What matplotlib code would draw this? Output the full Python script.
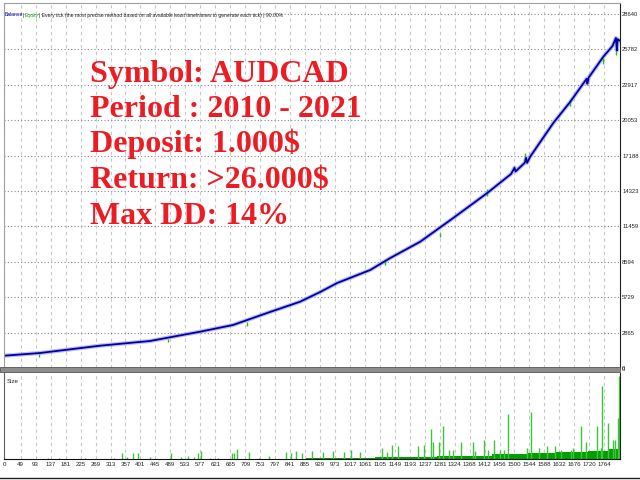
import matplotlib
matplotlib.use("Agg")
import matplotlib.pyplot as plt
from matplotlib.patches import Rectangle

# ---------------- data ----------------
balance_trade = [3, 106, 282, 429, 576, 673, 773, 870, 929, 979, 1076, 1135, 1223,
                 1320, 1420, 1490, 1500, 1503, 1530, 1534, 1537, 1546, 1614, 1664,
                 1712, 1714, 1718, 1761, 1788, 1798, 1801, 1803, 1808]
balance_value = [1000, 1214, 1804, 2184, 2937, 3479, 4450, 5364, 6148, 6877, 7928, 8899, 10218,
                 12135, 14158, 15700, 16200, 15900, 16600, 17000, 16600, 17094, 19820, 21544,
                 23400, 23000, 23500, 25185, 26050, 26700, 25700, 26600, 26500]

equity_dip_trade = [103, 482, 714, 1120, 1282, 1418, 1532, 1664, 1761, 1799]
equity_dip_top = [1130, 2346, 3720, 8656, 10921, 14480, 17390, 21680, 25080, 26450]
equity_dip_low = [890, 2100, 3400, 8333, 10600, 13915, 16830, 21200, 24590, 25320]

y_ticks = [0, 2865, 5729, 8594, 11459, 14323, 17188, 20053, 22917, 25782, 28640]
x_ticks = [0, 49, 93, 137, 181, 225, 269, 313, 357, 401, 445, 489, 533, 577, 621, 665,
           709, 753, 797, 841, 885, 929, 973, 1017, 1061, 1105, 1149, 1193, 1237, 1281,
           1324, 1368, 1412, 1456, 1500, 1544, 1588, 1632, 1676, 1720, 1764]

lot_step_trade = [0, 888, 1091, 1273, 1435, 1538, 1620, 1717, 1776, 1810]
lot_step_size = [0.0, 0.01, 0.02, 0.03, 0.04, 0.05, 0.06, 0.07, 0.085, 0.085]

spike_trade = [129, 162, 238, 323, 347, 362, 379, 394, 429, 491, 520, 541, 559, 570, 579,
               606, 629, 670, 676, 685, 720, 750, 779, 829, 843, 858, 876, 906, 938, 968,
               999, 1020, 1047, 1111, 1126, 1141, 1158, 1217, 1235, 1255, 1261, 1279, 1290,
               1308, 1320, 1343, 1379, 1385, 1411, 1423, 1440, 1458, 1470, 1482, 1537, 1549,
               1573, 1596, 1620, 1638, 1667, 1673, 1694, 1711, 1741, 1755, 1758, 1776, 1788,
               1794, 1805, 1808]
spike_size = [0.01, 0.01, 0.01, 0.01, 0.05, 0.02, 0.05, 0.05, 0.02, 0.05, 0.02, 0.03,
              0.02, 0.05, 0.07, 0.01, 0.01, 0.05, 0.05, 0.09, 0.06, 0.01, 0.03, 0.06,
              0.05, 0.07, 0.05, 0.07, 0.06, 0.07, 0.06, 0.08, 0.06, 0.10, 0.06, 0.12,
              0.11, 0.11, 0.12, 0.26, 0.15, 0.15, 0.29, 0.08, 0.08, 0.15, 0.15, 0.07,
              0.17, 0.08, 0.17, 0.08, 0.08, 0.39, 0.10, 0.41, 0.10, 0.11, 0.11, 0.08,
              0.08, 0.10, 0.29, 0.15, 0.29, 0.10, 0.64, 0.31, 0.17, 0.17, 0.36, 0.72]

info_lines = ["Symbol: AUDCAD", "Period : 2010 - 2021", "Deposit: 1.000$",
              "Return: >26.000$", "Max DD: 14%"]

# ---------------- figure ----------------
W, H = 640, 480
fig = plt.figure(figsize=(6.4, 4.8), dpi=100)
fig.patch.set_facecolor("white")

def fx(px):
    return px / W

def fy(py):
    return 1 - py / H

small_font = ["Liberation Sans Narrow", "Liberation Sans", "DejaVu Sans"]
XMAX = 1810

# top panel
ax1 = fig.add_axes([fx(4), fy(368), fx(616), 365 / H])
ax1.set_xlim(0, XMAX)
ax1.set_ylim(0, 29530)
ax1.set_yticks(y_ticks)
ax1.set_yticklabels([str(v) for v in y_ticks])
ax1.yaxis.tick_right()
ax1.tick_params(axis="y", length=0, pad=1.5, labelsize=4.2, labelcolor="#222222")
for lab in ax1.get_yticklabels():
    lab.set_family(small_font)
ax1.set_xticks(x_ticks)
ax1.tick_params(axis="x", length=0, labelbottom=False)
ax1.grid(axis="y", linestyle=(0, (1, 2)), color="#8a8a8a", linewidth=0.8)
ax1.grid(axis="x", linestyle=(0, (3, 3)), color="#c8c8c8", linewidth=0.8)
ax1.set_axisbelow(True)
for s in ["left", "top"]:
    ax1.spines[s].set_color("#a0a0a0")
ax1.spines["right"].set_color("#202020")
ax1.spines["bottom"].set_visible(False)

ax1.plot(balance_trade, balance_value, color="#a0a0ea", linewidth=3.0, alpha=0.7,
         solid_joinstyle="round")
ax1.vlines(equity_dip_trade, equity_dip_low, equity_dip_top, color="#22c022", linewidth=1.0)
ax1.plot(balance_trade, balance_value, color="#0000a0", linewidth=1.3)

# bottom panel
ax2 = fig.add_axes([fx(4), fy(459), fx(616), 86 / H])
ax2.set_xlim(0, XMAX)
ax2.set_ylim(0, 0.75)
ax2.set_xticks(x_ticks)
ax2.set_xticklabels([str(v) for v in x_ticks])
ax2.tick_params(axis="x", length=0, pad=2.5, labelsize=4.4, labelcolor="#222222")
for lab in ax2.get_xticklabels():
    lab.set_family(small_font)
ax2.set_yticks([])
ax2.grid(axis="x", linestyle=(0, (3, 3)), color="#c8c8c8", linewidth=0.8)
ax2.set_axisbelow(True)
ax2.spines["left"].set_color("#606060")
ax2.spines["right"].set_color("#202020")
ax2.spines["bottom"].set_color("#101010")
ax2.spines["top"].set_visible(False)

ax2.fill_between(lot_step_trade, 0, lot_step_size, step="post", color="#00a000",
                 linewidth=0)
ax2.vlines(spike_trade, 0, spike_size, color="#3cc43c", linewidth=1.0)
ax2.text(0.004, 0.93, "Size", transform=ax2.transAxes, fontsize=4.4,
         family=small_font, va="top", ha="left", color="#222222")

# separator bar between panels
fig.add_artist(Rectangle((fx(0), fy(372)), fx(620), 5 / H, transform=fig.transFigure,
                         facecolor="#8c8c8c", edgecolor="#555555", linewidth=0.6))
fig.text(fx(622), fy(369.5), "0", fontsize=4.2, family=small_font, va="center",
         ha="left", color="#222222")
# bottom frame line
fig.add_artist(plt.Line2D([fx(0), fx(640)], [fy(478), fy(478)], transform=fig.transFigure,
                          color="#222222", linewidth=1.0))

# header legend text
hdr = 3.6
fig.text(fx(5), fy(15), "Balance", fontsize=hdr, family=small_font, color="#0000c0",
         va="center", ha="left")
fig.text(fx(22.5), fy(15), "|", fontsize=hdr, family=small_font, color="#222222",
         va="center", ha="left")
fig.text(fx(25), fy(15), "Equity", fontsize=hdr, family=small_font, color="#20a020",
         va="center", ha="left")
fig.text(fx(39), fy(15),
         "| Every tick (the most precise method based on all available least timeframes "
         "to generate each tick) | 90.00%",
         fontsize=hdr, family=small_font, color="#222222", va="center", ha="left")

# big red annotation
baselines = [81.7, 116.7, 151.7, 188.3, 224.0]
for txt, yb in zip(info_lines, baselines):
    fig.text(fx(90), fy(yb), txt, fontsize=23, family=["Liberation Serif", "DejaVu Serif"],
             fontweight="bold", color="#ec1c24", va="baseline", ha="left")

fig.savefig("out.png", dpi=100, facecolor="white")
